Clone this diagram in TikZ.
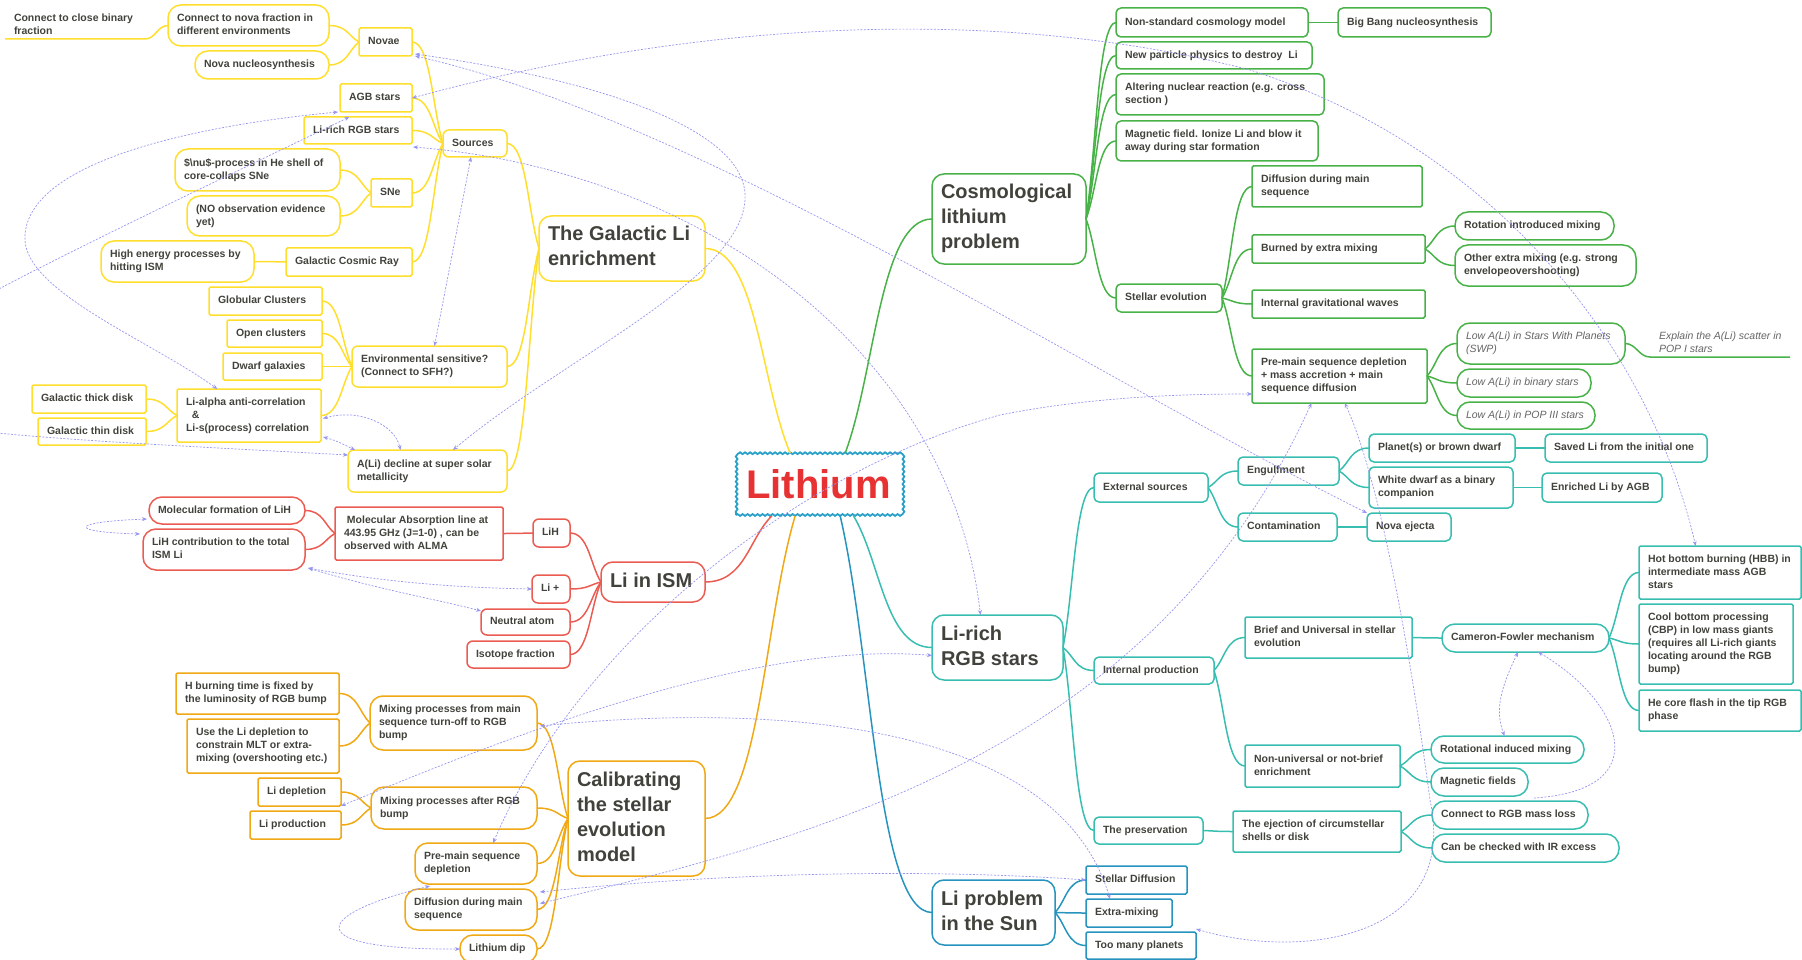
\documentclass[tikz,border=0pt]{standalone}
\usepackage{fontspec}
\setmainfont{Liberation Sans}
\usetikzlibrary{calc,arrows.meta,decorations.pathmorphing}
\definecolor{cy}{RGB}{255,222,45}
\definecolor{cr}{RGB}{234,92,82}
\definecolor{co}{RGB}{240,168,20}
\definecolor{cg}{RGB}{72,178,72}
\definecolor{ct}{RGB}{56,190,176}
\definecolor{cb}{RGB}{38,148,190}
\definecolor{cd}{RGB}{150,150,240}
\definecolor{tx}{RGB}{66,66,60}
\definecolor{ti}{RGB}{100,100,100}
\definecolor{lr}{RGB}{230,50,50}
\definecolor{lb}{RGB}{40,160,200}
\newcommand\fsn{\fontsize{10.5}{13}\selectfont\bfseries}
\newcommand\fsi{\fontsize{10.5}{13}\selectfont\mdseries\itshape}
\newcommand\fsb{\fontsize{20}{25}\selectfont\bfseries}
\newcommand\bx[7]{%
 \pgfmathsetmacro\mmW{#5-#3}\pgfmathsetmacro\mmH{#6-#4}%
 \pgfmathsetmacro\mmT{#5-#3-18}%
 \pgfmathsetmacro\mmX{(#3+#5)/2}\pgfmathsetmacro\mmY{(#4+#6)/2}%
 \node[#1, minimum width=\mmW pt, minimum height=\mmH pt] (#2) at (\mmX,\mmY)
   {\makebox[\mmT pt][l]{\begin{tabular}{@{}l@{}}#7\end{tabular}}};}
\begin{document}
\begin{tikzpicture}[x=1pt,y=-1pt,
 xm/.style={to path={let \p1=(\tikztostart), \p2=(\tikztotarget) in
   .. controls ($(\p1)!0.35!(\p2)$) and ({\x2+0.6*(\x1-\x2)},\y2) .. (\tikztotarget)}},
 base/.style={draw, line width=1.5pt, inner xsep=9pt, inner ysep=1pt, outer sep=0pt, text=tx, font=\fsn},
 pl/.style={inner xsep=9pt, inner ysep=0pt, outer sep=0pt, text=tx, font=\fsn},
 it/.style={font=\fsi, text=ti},
 big/.style={font=\fsb, rounded corners=12pt},
 ys/.style={base, draw=cy, rounded corners=1.5pt}, yr/.style={base, draw=cy, rounded corners=6pt}, yp/.style={base, draw=cy, rounded corners=13pt},
 rs/.style={base, draw=cr, rounded corners=1.5pt}, rr/.style={base, draw=cr, rounded corners=6pt}, rp/.style={base, draw=cr, rounded corners=13pt},
 os/.style={base, draw=co, rounded corners=1.5pt}, orr/.style={base, draw=co, rounded corners=6pt}, op/.style={base, draw=co, rounded corners=13pt},
 gs/.style={base, draw=cg, rounded corners=1.5pt}, gr/.style={base, draw=cg, rounded corners=5pt}, gp/.style={base, draw=cg, rounded corners=13pt},
 ts/.style={base, draw=ct, rounded corners=1.5pt}, tr/.style={base, draw=ct, rounded corners=5pt}, tp/.style={base, draw=ct, rounded corners=13pt},
 bs/.style={base, draw=cb, rounded corners=1.5pt}, br/.style={base, draw=cb, rounded corners=6pt},
 yl/.style={draw=cy, line width=1.5pt}, rl/.style={draw=cr, line width=1.5pt},
 ol/.style={draw=co, line width=1.5pt}, gl/.style={draw=cg, line width=1.5pt},
 tl/.style={draw=ct, line width=1.5pt}, bl/.style={draw=cb, line width=1.5pt},
 rel/.style={draw=cd, line width=0.7pt, dash pattern=on 2pt off 1.5pt, arrows={Stealth[length=5pt,width=4pt]-Stealth[length=5pt,width=4pt]}},
 rels/.style={draw=cd, line width=0.7pt, dash pattern=on 2pt off 1.5pt, arrows={Stealth[length=5pt,width=4pt]-}}
]
\useasboundingbox (0,0) rectangle (1802,960);

% ---------- central node ----------
\node[draw=lb, line width=1.8pt, decorate, decoration={snake, segment length=5pt, amplitude=0.9pt},
  minimum width=165pt, minimum height=61pt, inner sep=0pt, text=lr,
  font=\fontsize{40}{40}\selectfont\bfseries] (lith) at (818.5,484.5) {Lithium};
\coordinate (lg) at ($(lith.north west)!0.33!(lith.north east)$);
\coordinate (lc) at ($(lith.north west)!0.66!(lith.north east)$);
\coordinate (lr) at ($(lith.south west)!0.22!(lith.south east)$);
\coordinate (lo) at ($(lith.south west)!0.36!(lith.south east)$);
\coordinate (ls) at ($(lith.south west)!0.63!(lith.south east)$);
\coordinate (lt) at ($(lith.south west)!0.71!(lith.south east)$);

% ---------- yellow ----------
\bx{pl}{cbin}{5}{12}{145}{39}{Connect to close binary\\fraction}
\bx{yp}{nfrac}{168}{5}{329}{46}{Connect to nova fraction in\\different environments}
\bx{yp}{nnuc}{195}{51}{329}{79}{Nova nucleosynthesis}
\bx{ys}{novae}{359}{28}{412}{56}{Novae}
\bx{ys}{agb}{340}{84}{412}{112}{AGB stars}
\bx{ys}{lrgby}{304}{117}{412}{144}{Li-rich RGB stars}
\bx{yp}{nup}{175}{149}{340}{191}{\$\textbackslash nu\$-process in He shell of\\core-collaps SNe}
\bx{ys}{sne}{371}{179}{412}{207}{SNe}
\bx{yp}{noobs}{187}{196}{340}{236}{(NO observation evidence\\yet)}
\bx{yp}{hien}{101}{241}{254}{282}{High energy processes by\\hitting ISM}
\bx{ys}{gcr}{286}{248}{412}{276}{Galactic Cosmic Ray}
\bx{yr}{sources}{443}{130}{507}{157}{Sources}
\bx{ys}{glob}{209}{287}{322}{315}{Globular Clusters}
\bx{ys}{open}{227}{320}{322}{347}{Open clusters}
\bx{ys}{dwarf}{223}{353}{322}{380}{Dwarf galaxies}
\bx{yr}{env}{352}{346}{507}{387}{Environmental sensitive?\\(Connect to SFH?)}
\bx{ys}{thick}{32}{385}{146}{413}{Galactic thick disk}
\bx{ys}{thin}{38}{418}{146}{445}{Galactic thin disk}
\bx{ys}{lialpha}{177}{389}{321}{442}{Li-alpha anti-correlation\\\ \ \&\\Li-s(process) correlation}
\bx{yr}{ali}{348}{450}{507}{492}{A(Li) decline at super solar\\metallicity}
\bx{yr,big}{galactic}{539}{216}{705}{281}{The Galactic Li\\enrichment}

% ---------- red ----------
\bx{rp}{mform}{149}{497}{305}{524}{Molecular formation of LiH}
\bx{rp}{mcont}{143}{529}{305}{570}{LiH contribution to the total\\ISM Li}
\bx{rs}{mabs}{335}{507}{503}{560}{\ Molecular Absorption line at\\443.95 GHz (J=1-0) , can be\\observed with ALMA}
\bx{rr}{lih}{533}{519}{570}{547}{LiH}
\bx{rr}{liplus}{532}{575}{570}{603}{Li +}
\bx{rr}{neutral}{481}{609}{570}{635}{Neutral atom}
\bx{rr}{isotope}{467}{641}{570}{668}{Isotope fraction}
\bx{rr,big}{liism}{601}{562}{705}{602}{Li in ISM}

% ---------- orange ----------
\bx{os}{hburn}{176}{673}{339}{714}{H burning time is fixed by\\the luminosity of RGB bump}
\bx{os}{useli}{187}{719}{339}{773}{Use the Li depletion to\\constrain MLT or extra-\\mixing (overshooting etc.)}
\bx{os}{lidep}{258}{778}{341}{806}{Li depletion}
\bx{os}{liprod}{250}{811}{341}{839}{Li production}
\bx{op}{msto}{370}{696}{537}{750}{Mixing processes from main\\sequence turn-off to RGB\\bump}
\bx{op}{argb}{371}{787}{537}{829}{Mixing processes after RGB\\bump}
\bx{op}{pms}{415}{843}{537}{884}{Pre-main sequence\\depletion}
\bx{op}{diffo}{405}{889}{537}{930}{Diffusion during main\\sequence}
\bx{op}{lidip}{460}{935}{537}{963}{Lithium dip}
\bx{orr,big}{calib}{568}{761}{705}{876}{Calibrating\\the stellar\\evolution\\model}

% ---------- green ----------
\bx{gr,big}{cosmo}{932}{174}{1086}{264}{Cosmological\\lithium\\problem}
\bx{gr}{nonstd}{1116}{8}{1308}{37}{Non-standard cosmology model}
\bx{gr}{bbn}{1338}{8}{1491}{37}{Big Bang nucleosynthesis}
\bx{gr}{newp}{1116}{42}{1312}{69}{New particle physics to destroy\ \ Li}
\bx{gr}{alter}{1116}{74}{1324}{115}{Altering nuclear reaction (e.g. cross\\section )}
\bx{gr}{magn}{1116}{121}{1318}{161}{Magnetic field. Ionize Li and blow it\\away during star formation}
\bx{gr}{stev}{1116}{284}{1222}{312}{Stellar evolution}
\bx{gs}{diffg}{1252}{166}{1422}{207}{Diffusion during main\\sequence}
\bx{gs}{burned}{1252}{235}{1425}{263}{Burned by extra mixing}
\bx{gs}{igw}{1252}{290}{1425}{318}{Internal gravitational waves}
\bx{gs}{pmsg}{1252}{349}{1427}{403}{Pre-main sequence depletion\\+ mass accretion + main\\sequence diffusion}
\bx{gp}{rotm}{1455}{212}{1614}{240}{Rotation introduced mixing}
\bx{gp}{other}{1455}{245}{1636}{286}{Other extra mixing (e.g. strong\\envelopeovershooting)}
\bx{gp,it}{swp}{1457}{323}{1625}{364}{Low A(Li) in Stars With Planets\\(SWP)}
\bx{pl,it}{explain}{1650}{330}{1790}{357}{Explain the A(Li) scatter in\\POP I stars}
\bx{gp,it}{binary}{1457}{369}{1591}{397}{Low A(Li) in binary stars}
\bx{gp,it}{pop3}{1457}{402}{1595}{429}{Low A(Li) in POP III stars}

% ---------- teal ----------
\bx{tr,big}{lirgb}{932}{615}{1063}{680}{Li-rich\\RGB stars}
\bx{tr}{ext}{1094}{473}{1208}{502}{External sources}
\bx{tr}{engulf}{1238}{457}{1339}{485}{Engulfment}
\bx{tr}{contam}{1238}{513}{1337}{541}{Contamination}
\bx{tr}{planet}{1369}{434}{1515}{462}{Planet(s) or brown dwarf}
\bx{tr}{saved}{1545}{434}{1707}{462}{Saved Li from the initial one}
\bx{tr}{wd}{1369}{467}{1513}{508}{White dwarf as a binary\\companion}
\bx{tr}{enrich}{1542}{473}{1662}{502}{Enriched Li by AGB}
\bx{tr}{novaej}{1367}{513}{1451}{541}{Nova ejecta}
\bx{tr}{intprod}{1094}{657}{1214}{684}{Internal production}
\bx{ts}{brief}{1245}{617}{1412}{658}{Brief and Universal in stellar\\evolution}
\bx{tp}{cameron}{1442}{624}{1609}{652}{Cameron-Fowler mechanism}
\bx{ts}{hbb}{1639}{546}{1801}{599}{Hot bottom burning (HBB) in\\intermediate mass AGB\\stars}
\bx{ts}{cbp}{1639}{604}{1793}{684}{Cool bottom processing\\(CBP) in low mass giants\\(requires all Li-rich giants\\locating around the RGB\\bump)}
\bx{ts}{hecore}{1639}{690}{1801}{731}{He core flash in the tip RGB\\phase}
\bx{ts}{nonuni}{1245}{745}{1400}{787}{Non-universal or not-brief\\enrichment}
\bx{tp}{rotind}{1431}{736}{1584}{763}{Rotational induced mixing}
\bx{tp}{magf}{1431}{768}{1528}{796}{Magnetic fields}
\bx{tr}{pres}{1094}{817}{1203}{844}{The preservation}
\bx{ts}{eject}{1233}{811}{1401}{852}{The ejection of circumstellar\\shells or disk}
\bx{tp}{crgb}{1432}{801}{1588}{829}{Connect to RGB mass loss}
\bx{tp}{irex}{1432}{834}{1619}{862}{Can be checked with IR excess}

% ---------- blue ----------
\bx{br,big}{sun}{932}{880}{1055}{945}{Li problem\\in the Sun}
\bx{bs}{sdiff}{1086}{866}{1187}{894}{Stellar Diffusion}
\bx{bs}{xmix}{1086}{899}{1172}{927}{Extra-mixing}
\bx{bs}{tmp}{1086}{932}{1196}{959}{Too many planets}

% ---------- solid connectors ----------
\draw[yl] (lg) to[xm] (galactic.east);
\foreach \ch in {sources,env,ali} \draw[yl] (galactic.west) to[xm] (\ch.east);
\foreach \ch in {novae,agb,lrgby,sne,gcr} \draw[yl] (sources.west) to[xm] (\ch.east);
\foreach \ch in {nfrac,nnuc} \draw[yl] (novae.west) to[xm] (\ch.east);
\foreach \ch in {nup,noobs} \draw[yl] (sne.west) to[xm] (\ch.east);
\draw[yl] (gcr.west) to[xm] (hien.east);
\foreach \ch in {glob,open,dwarf,lialpha} \draw[yl] (env.west) to[xm] (\ch.east);
\foreach \ch in {thick,thin} \draw[yl] (lialpha.west) to[xm] (\ch.east);
\draw[yl] (nfrac.west) to[out=180,in=0] (cbin.south east) -- (cbin.south west);

\draw[rl] (lr) to[xm] (liism.east);
\foreach \ch in {lih,liplus,neutral,isotope} \draw[rl] (liism.west) to[xm] (\ch.east);
\draw[rl] (lih.west) to[xm] (mabs.east);
\foreach \ch in {mform,mcont} \draw[rl] (mabs.west) to[xm] (\ch.east);

\draw[ol] (lo) to[xm] (calib.east);
\foreach \ch in {msto,argb,pms,diffo,lidip} \draw[ol] (calib.west) to[xm] (\ch.east);
\foreach \ch in {hburn,useli} \draw[ol] (msto.west) to[xm] (\ch.east);
\foreach \ch in {lidep,liprod} \draw[ol] (argb.west) to[xm] (\ch.east);

\draw[gl] (lc) to[xm] (cosmo.west);
\foreach \ch in {nonstd,newp,alter,magn,stev} \draw[gl] (cosmo.east) to[xm] (\ch.west);
\draw[gl] (nonstd.east) to[xm] (bbn.west);
\foreach \ch in {diffg,burned,igw,pmsg} \draw[gl] (stev.east) to[xm] (\ch.west);
\foreach \ch in {rotm,other} \draw[gl] (burned.east) to[xm] (\ch.west);
\foreach \ch in {swp,binary,pop3} \draw[gl] (pmsg.east) to[xm] (\ch.west);
\draw[gl] (swp.east) to[out=0,in=180] (explain.south west) -- (explain.south east);

\draw[tl] (lt) to[xm] (lirgb.west);
\foreach \ch in {ext,intprod,pres} \draw[tl] (lirgb.east) to[xm] (\ch.west);
\foreach \ch in {engulf,contam} \draw[tl] (ext.east) to[xm] (\ch.west);
\foreach \ch in {planet,wd} \draw[tl] (engulf.east) to[xm] (\ch.west);
\draw[tl] (planet.east) to[xm] (saved.west);
\draw[tl] (wd.east) to[xm] (enrich.west);
\draw[tl] (contam.east) to[xm] (novaej.west);
\foreach \ch in {brief,nonuni} \draw[tl] (intprod.east) to[xm] (\ch.west);
\draw[tl] (brief.east) to[xm] (cameron.west);
\foreach \ch in {hbb,cbp,hecore} \draw[tl] (cameron.east) to[xm] (\ch.west);
\foreach \ch in {rotind,magf} \draw[tl] (nonuni.east) to[xm] (\ch.west);
\draw[tl] (pres.east) to[xm] (eject.west);
\foreach \ch in {crgb,irex} \draw[tl] (eject.east) to[xm] (\ch.west);

\draw[bl] (ls) to[xm] (sun.west);
\foreach \ch in {sdiff,xmix,tmp} \draw[bl] (sun.east) to[xm] (\ch.west);

% ---------- dashed relations ----------
\draw[rel] (agb.east) .. controls (700,20) and (1000,5) .. (1250,70)
   .. controls (1500,150) and (1650,350) .. ($(hbb.north west)!0.35!(hbb.north east)$);
\draw[rel] ($(novae.south east)+(3,-2)$) .. controls (600,80) and (750,130) .. (745,200)
   .. controls (740,280) and (560,360) .. ($(ali.north west)!0.66!(ali.north east)$);
\draw[rel] ($(novae.south east)+(3,0)$) .. controls (700,120) and (1100,380) .. (novaej.north west);
\draw[rel] ($(lrgby.south east)+(1,3)$) .. controls (700,170) and (950,350) .. ($(lirgb.north west)!0.37!(lirgb.north east)$);
\draw[rel] ($(sources.south)+(-4,0)$) -- ($(env.north)+(5,0)$);
\draw[rel] ($(agb.south west)+(-2,0)$) .. controls (200,125) and (30,160) .. (25,235)
   .. controls (20,290) and (150,340) .. ($(lialpha.north west)!0.28!(lialpha.north east)$);
\draw[rel] ($(lrgby.north west)!0.42!(lrgby.north east)$) .. controls (-300,430) and (-300,420) .. ($(ali.north west)+(0,5)$);
\draw[rel] ($(lialpha.east)+(2,3)$) .. controls (360,408) and (395,425) .. ($(ali.north west)!0.33!(ali.north east)$);
\draw[rel] ($(lialpha.south east)+(2,-5)$) .. controls (335,440) and (345,445) .. ($(ali.north west)+(7,0)$);
\draw[rel] ($(mform.south west)+(-2,-5)$) .. controls (68,522) and (68,532) .. ($(mcont.north west)+(-3,5)$);
\draw[rel] ($(mcont.south east)+(3,-2)$) .. controls (400,585) and (480,588) .. (liplus.west);
\draw[rel] ($(mcont.south east)+(3,-2)$) .. controls (380,590) and (440,600) .. ($(neutral.north west)+(0,2)$);
\draw[rel] ($(pms.north west)!0.64!(pms.north east)$) .. controls (580,640) and (800,470) .. (1000,415)
   .. controls (1100,395) and (1200,394) .. ($(pmsg.south west)+(0,-9)$);
\draw[rel] (lidep.south east) .. controls (500,740) and (750,640) .. ($(lirgb.west)+(0,8)$);
\draw[rel] ($(msto.east)+(3,3)$) .. controls (800,700) and (1060,730) .. ($(xmix.north west)+(24,0)$);
\draw[rel] ($(diffo.north east)+(3,3)$) .. controls (750,870) and (950,870) .. (sdiff.west);
\draw[rel] ($(diffo.east)+(3,-6)$) .. controls (800,840) and (1150,760) .. ($(pmsg.south west)!0.34!(pmsg.south east)$);
\draw[rel] ($(pms.south west)+(15,2)$) .. controls (310,915) and (300,950) .. (lidip.west);
\draw[rel] ($(tmp.north east)+(0,-3)$) .. controls (1300,960) and (1460,940) .. (1430,800)
   .. controls (1410,650) and (1380,480) .. ($(pmsg.south west)!0.53!(pmsg.south east)$);
\draw[rel] ($(cameron.south west)!0.455!(cameron.south east)$) .. controls (1500,690) and (1495,710) .. ($(rotind.north west)!0.48!(rotind.north east)$);
\draw[rels] ($(cameron.south west)!0.575!(cameron.south east)$) .. controls (1620,700) and (1660,790) .. ($(magf.south east)+(6,2)$);
\end{tikzpicture}
\end{document}
